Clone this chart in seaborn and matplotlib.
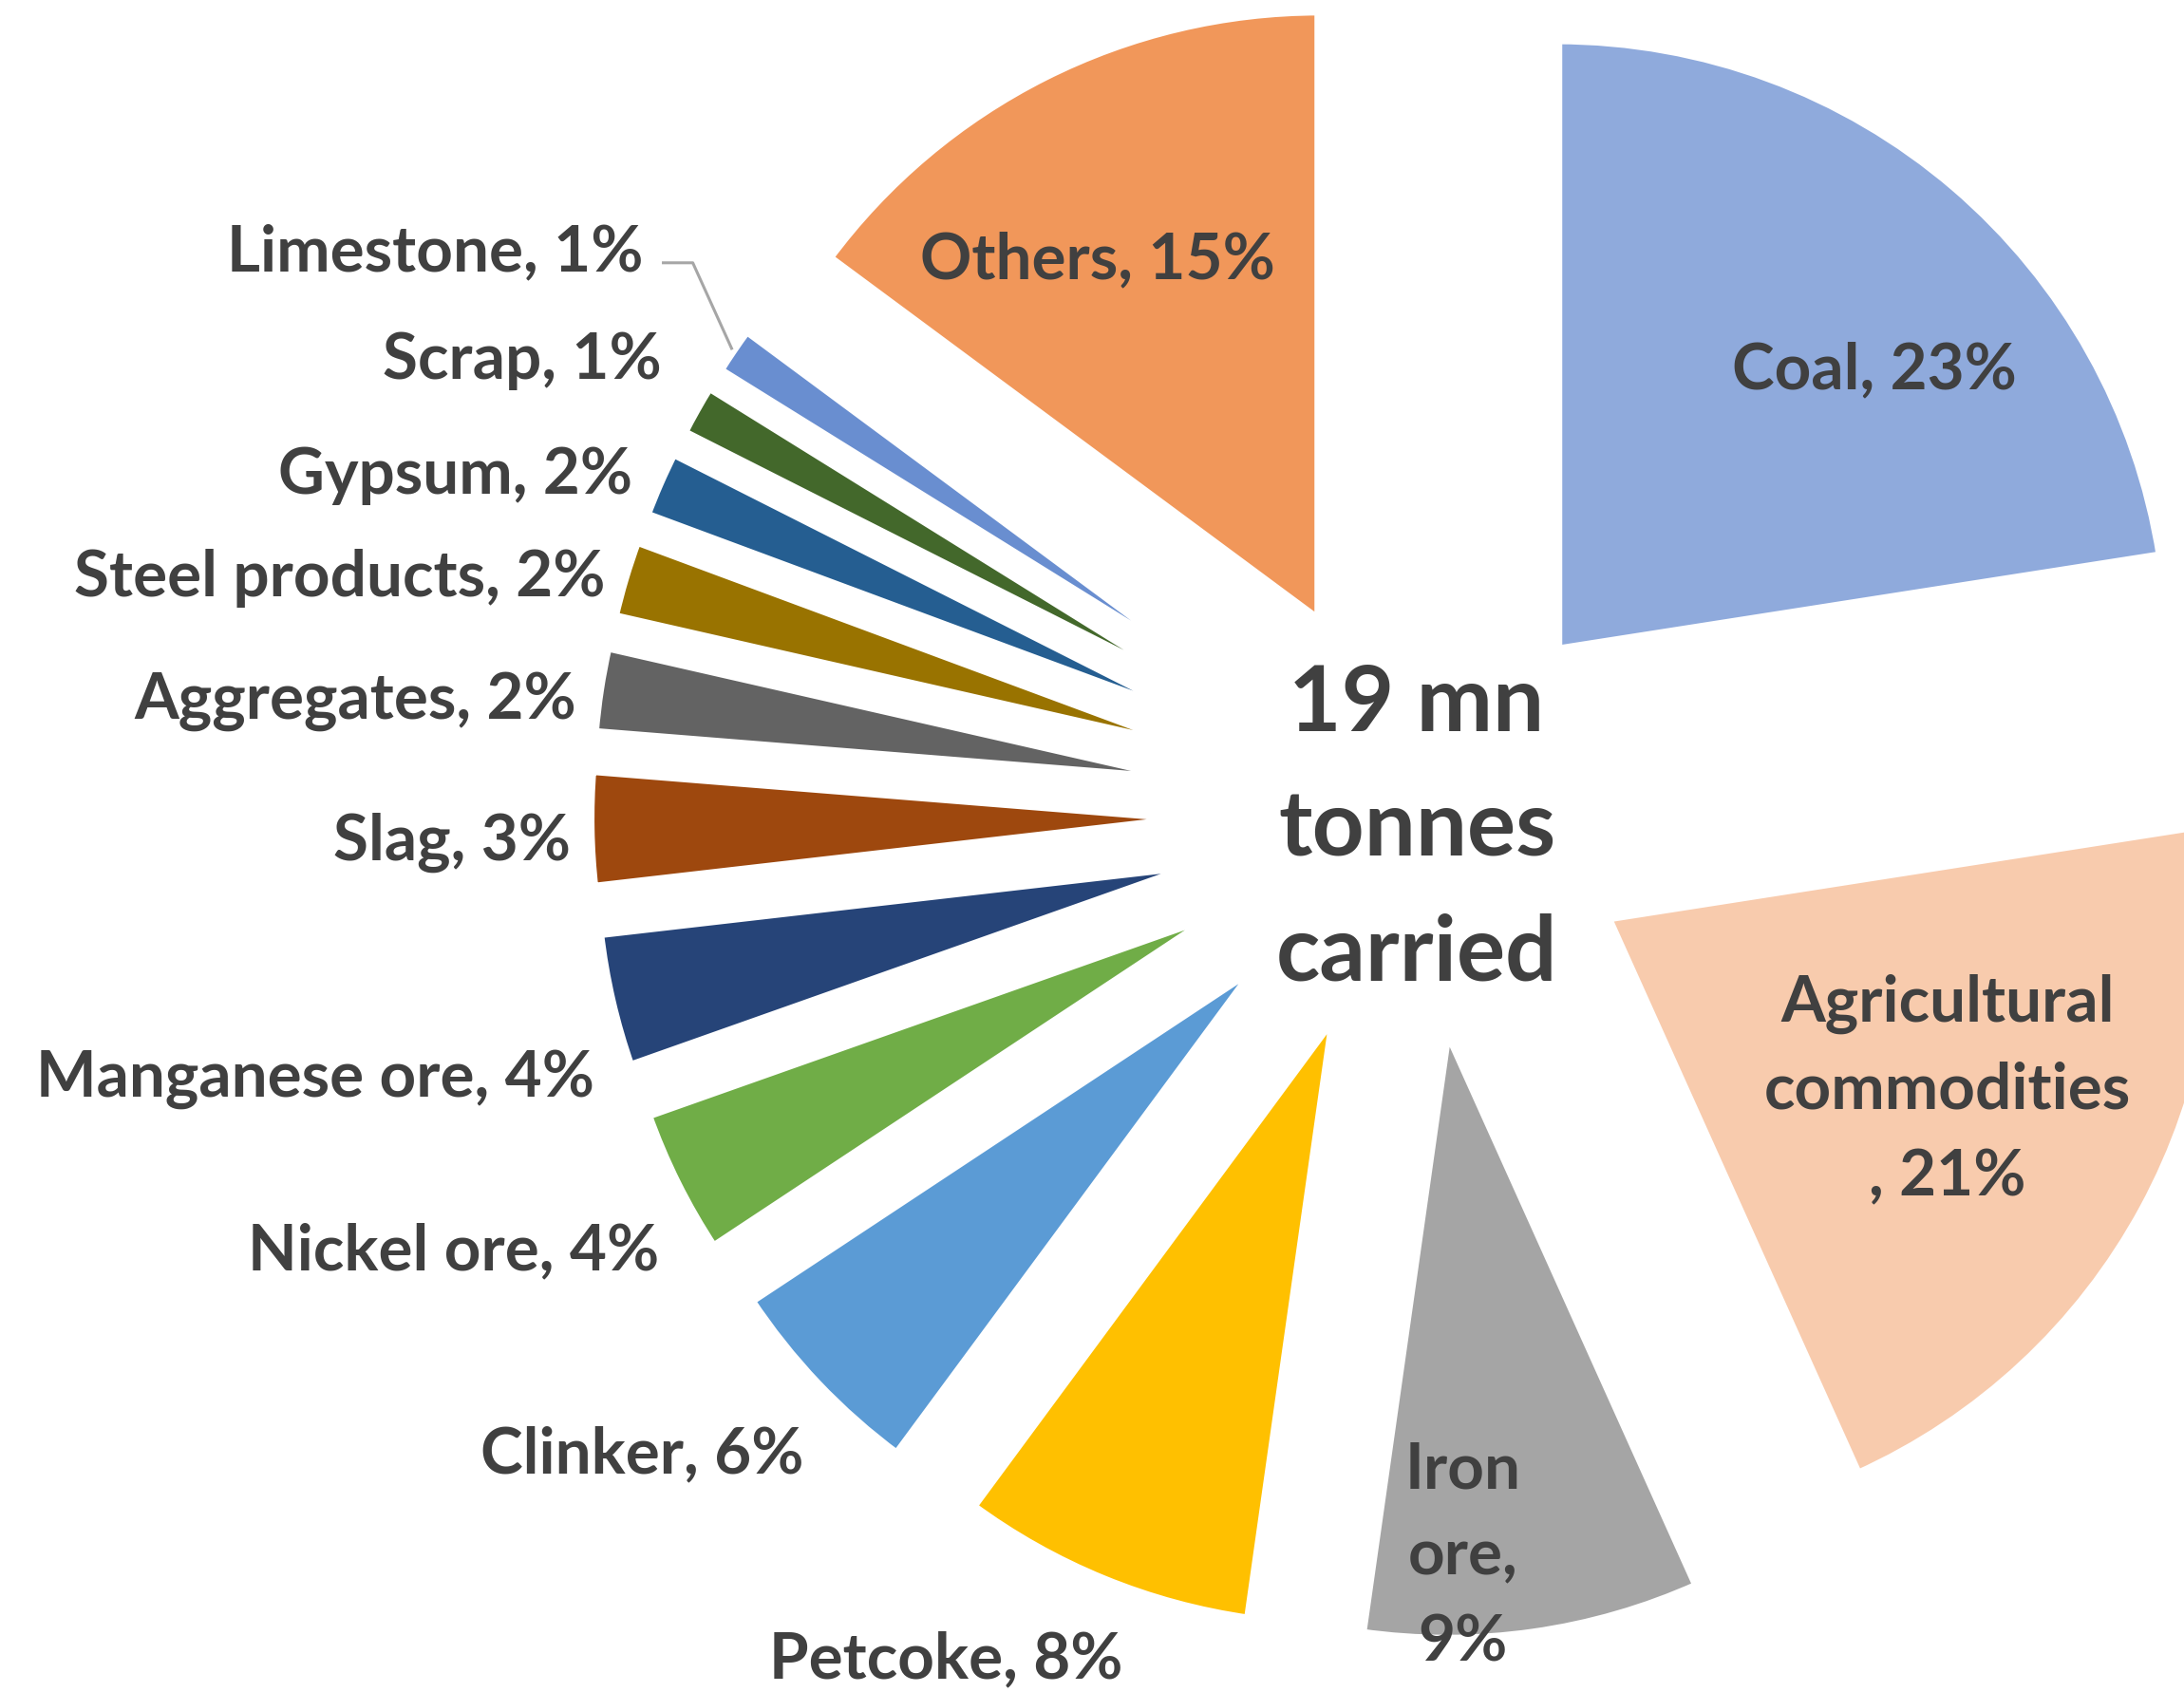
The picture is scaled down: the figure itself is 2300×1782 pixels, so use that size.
import matplotlib
matplotlib.use('Agg')
import numpy as np
import matplotlib.pyplot as plt
import seaborn as sns

# shares (labels show them rounded)
CATEGORIES = ['Coal', 'Agricultural commodities', 'Iron ore', 'Petcoke', 'Clinker',
              'Nickel ore', 'Manganese ore', 'Slag', 'Aggregates', 'Steel products',
              'Gypsum', 'Scrap', 'Limestone', 'Others']
SHARES = [22.6, 20.8, 9.0, 7.9, 5.6, 3.9, 3.6, 3.1, 2.3, 2.1, 1.8, 1.4, 1.3, 14.9]
COLORS = ['#8FAADC', '#F8CBAD', '#A5A5A5', '#FFC000', '#5B9BD5', '#70AD47', '#264478',
          '#9E480E', '#636363', '#997300', '#255E91', '#43682B', '#698ED0', '#F1975A']
CENTER_TEXT = '19 mn\ntonnes\ncarried'

# labels that wrap over several lines in the original
WRAPPED = {
    'Agricultural commodities': 'Agricultural\ncommodities\n, {p}%',
    'Iron ore': 'Iron\nore,\n{p}%',
}

# label anchors (x, y, ha) in pie-radius units, pie centre at 0, 0
LABEL_POS = {
    'Coal': (0.756, 0.742, 'center'),
    'Agricultural commodities': (0.876, -0.455, 'center'),
    'Iron ore': (0.076, -1.225, 'center'),
    'Petcoke': (-0.777, -1.386, 'center'),
    'Clinker': (-1.011, -1.047, 'right'),
    'Nickel ore': (-1.251, -0.712, 'right'),
    'Manganese ore': (-1.357, -0.426, 'right'),
    'Slag': (-1.397, -0.035, 'right'),
    'Aggregates': (-1.387, 0.198, 'right'),
    'Steel products': (-1.339, 0.399, 'right'),
    'Gypsum': (-1.295, 0.569, 'right'),
    'Scrap': (-1.246, 0.759, 'right'),
    'Limestone': (-1.276, 0.936, 'right'),
    'Others': (-0.526, 0.924, 'center'),
}

TEXT = '#404040'
EXPLODE = 0.356
UNIT_PX = 638.0          # output pixels per pie radius
CENTER_PX = (1492, 858)  # pie centre in the output image
W, H = 2300, 1782

sns.set_theme(style='white')
plt.rcParams['font.family'] = ['Lato', 'DejaVu Sans']

fig = plt.figure(figsize=(W / 100, H / 100), dpi=100)
ax = fig.add_axes([0, 0, 1, 1])

wedges, _ = ax.pie(
    SHARES,
    colors=sns.color_palette(COLORS),
    startangle=90,
    counterclock=False,
    explode=[EXPLODE] * len(SHARES),
    radius=1.01,
    wedgeprops=dict(edgecolor='white', linewidth=8),
)

ax.set_xlim(-CENTER_PX[0] / UNIT_PX, (W - CENTER_PX[0]) / UNIT_PX)
ax.set_ylim(-(H - CENTER_PX[1]) / UNIT_PX, CENTER_PX[1] / UNIT_PX)
ax.set_aspect('equal')
ax.axis('off')

for name, v in zip(CATEGORIES, SHARES):
    x, y, ha = LABEL_POS[name]
    txt = WRAPPED.get(name, '{n}, {p}%').format(n=name, p=f'{v:.0f}')
    multi = '\n' in txt
    ax.text(x, y, txt, ha=ha, va='center' if multi else 'center_baseline',
            multialignment='center', fontsize=48.5, fontweight='bold',
            color=TEXT, linespacing=1.58)

# leader line for the Limestone label, ending on the slice's outer arc
w = wedges[CATEGORIES.index('Limestone')]
mid = np.deg2rad((w.theta1 + w.theta2) / 2)
end = (w.center[0] + w.r * np.cos(mid), w.center[1] + w.r * np.sin(mid))
lx, ly, _ = LABEL_POS['Limestone']
ax.plot([lx + 0.03, lx + 0.081, end[0]], [ly - 0.025, ly - 0.025, end[1]],
        color='#a6a6a6', lw=2.2, solid_capstyle='butt')

ax.text(0, -0.025, CENTER_TEXT, ha='center', va='center', fontsize=69,
        fontweight='bold', color=TEXT, linespacing=1.62)

fig.savefig('out.png', dpi=100)
